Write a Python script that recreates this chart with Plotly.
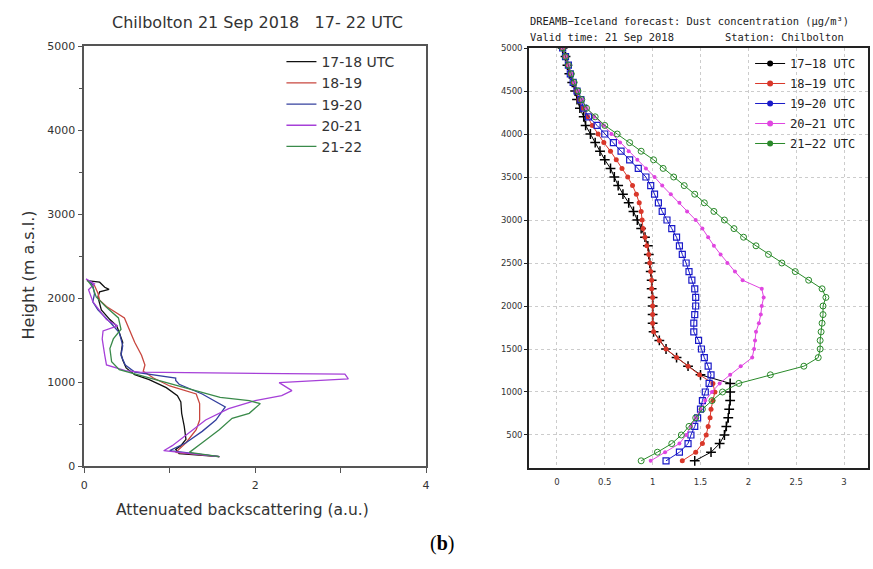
import plotly.graph_objects as go

W, H = 873, 569

# ---------------- Left panel: lidar attenuated backscatter ----------------
left_names = ["17-18 UTC", "18-19", "19-20", "20-21", "21-22"]
left_colors = ["#111111", "#c8473f", "#34409e", "#a640d8", "#3a8a4a"]

lid_1718_h = [115, 150, 200, 245, 320, 475, 630, 765, 840, 935, 1030, 1090, 1170, 1265, 1340, 1475, 1590, 1670, 1745, 1860, 2015, 2075, 2105, 2130, 2190, 2210]
lid_1718_x = [1.58, 1.11, 1.07, 1.13, 1.19, 1.17, 1.14, 1.13, 1.09, 0.96, 0.76, 0.59, 0.49, 0.45, 0.43, 0.45, 0.41, 0.38, 0.30, 0.20, 0.16, 0.18, 0.29, 0.24, 0.18, 0.03]

lid_1819_h = [115, 165, 280, 435, 550, 745, 860, 955, 1050, 1130, 1205, 1320, 1475, 1670, 1765, 1900, 1975, 2060, 2150, 2200]
lid_1819_x = [1.58, 1.07, 1.19, 1.31, 1.35, 1.35, 1.31, 1.00, 0.81, 0.69, 0.71, 0.67, 0.59, 0.51, 0.47, 0.26, 0.18, 0.16, 0.12, 0.05]

lid_1920_h = [115, 185, 280, 415, 550, 705, 860, 975, 1020, 1050, 1120, 1205, 1320, 1435, 1590, 1705, 1860, 1955, 2055, 2150, 2210]
lid_1920_x = [1.58, 1.00, 1.19, 1.38, 1.54, 1.65, 1.38, 1.11, 1.07, 1.07, 0.59, 0.48, 0.43, 0.45, 0.41, 0.31, 0.16, 0.10, 0.12, 0.10, 0.06]

lid_2021_h = [115, 185, 245, 400, 550, 685, 780, 840, 900, 995, 1040, 1095, 1120, 1137, 1205, 1320, 1515, 1610, 1670, 1745, 1900, 1960, 2100, 2170, 2230]
lid_2021_x = [1.58, 0.93, 1.03, 1.23, 1.42, 1.69, 2.00, 2.31, 2.43, 2.28, 3.09, 3.05, 0.65, 0.48, 0.26, 0.24, 0.21, 0.22, 0.39, 0.26, 0.14, 0.10, 0.05, 0.12, 0.02]

lid_2122_h = [115, 165, 280, 435, 570, 630, 745, 780, 820, 975, 1090, 1150, 1245, 1400, 1515, 1630, 1765, 1900, 2015, 2130, 2210]
lid_2122_x = [1.58, 1.23, 1.38, 1.58, 1.73, 1.93, 2.06, 1.93, 1.59, 1.03, 0.61, 0.41, 0.32, 0.30, 0.34, 0.43, 0.40, 0.25, 0.14, 0.10, 0.04]

left_series = [(lid_1718_x, lid_1718_h), (lid_1819_x, lid_1819_h), (lid_1920_x, lid_1920_h),
               (lid_2021_x, lid_2021_h), (lid_2122_x, lid_2122_h)]

# ---------------- Right panel: DREAMB forecast dust concentration ----------------
model_levels = [200, 300, 400, 500, 600, 700, 800, 900, 1000, 1100, 1200, 1300, 1400, 1500,
                1600, 1700, 1800, 1900, 2000, 2100, 2200, 2300, 2400, 2500, 2600, 2700, 2800,
                2900, 3000, 3100, 3200, 3300, 3400, 3500, 3600, 3700, 3800, 3900, 4000, 4100,
                4200, 4300, 4400, 4500, 4600, 4700, 4800, 4900, 5000]

dust_1718 = [1.44, 1.61, 1.70, 1.75, 1.77, 1.79, 1.80, 1.81, 1.81, 1.81, 1.50, 1.37, 1.25, 1.14,
             1.07, 1.01, 1.00, 1.00, 1.00, 1.00, 0.99, 0.99, 0.98, 0.97, 0.96, 0.95, 0.92,
             0.88, 0.84, 0.80, 0.75, 0.69, 0.64, 0.60, 0.56, 0.50, 0.45, 0.40, 0.35, 0.30,
             0.28, 0.24, 0.21, 0.19, 0.16, 0.13, 0.11, 0.09, 0.06]
dust_1819 = [1.31, 1.45, 1.52, 1.56, 1.58, 1.60, 1.61, 1.63, 1.65, 1.63, 1.49, 1.37, 1.25, 1.14,
             1.07, 1.01, 1.00, 1.00, 1.00, 1.00, 0.99, 0.99, 0.98, 0.97, 0.96, 0.94, 0.92,
             0.90, 0.89, 0.88, 0.86, 0.83, 0.79, 0.74, 0.68, 0.62, 0.56, 0.49, 0.43, 0.37,
             0.32, 0.27, 0.23, 0.20, 0.17, 0.14, 0.11, 0.09, 0.06]
dust_1920 = [1.14, 1.28, 1.37, 1.40, 1.44, 1.47, 1.50, 1.52, 1.55, 1.59, 1.61, 1.58, 1.54, 1.51,
             1.48, 1.43, 1.43, 1.44, 1.45, 1.45, 1.44, 1.41, 1.38, 1.35, 1.31, 1.28, 1.25,
             1.20, 1.15, 1.10, 1.06, 1.02, 0.98, 0.93, 0.85, 0.76, 0.67, 0.59, 0.50, 0.42,
             0.33, 0.28, 0.25, 0.21, 0.17, 0.14, 0.12, 0.09, 0.06]
dust_2021 = [0.98, 1.13, 1.28, 1.35, 1.40, 1.45, 1.50, 1.55, 1.62, 1.70, 1.81, 1.92, 2.04, 2.06,
             2.07, 2.08, 2.11, 2.13, 2.14, 2.16, 2.14, 1.94, 1.86, 1.78, 1.71, 1.64, 1.58,
             1.52, 1.45, 1.36, 1.28, 1.19, 1.10, 1.02, 0.93, 0.84, 0.75, 0.66, 0.57, 0.49,
             0.39, 0.31, 0.26, 0.22, 0.18, 0.15, 0.12, 0.09, 0.06]
dust_2122 = [0.88, 1.05, 1.20, 1.30, 1.38, 1.45, 1.52, 1.62, 1.73, 1.90, 2.23, 2.58, 2.73, 2.75,
             2.75, 2.76, 2.77, 2.78, 2.78, 2.81, 2.77, 2.63, 2.49, 2.35, 2.21, 2.08, 1.95,
             1.85, 1.75, 1.64, 1.54, 1.44, 1.33, 1.22, 1.11, 1.01, 0.88, 0.76, 0.63, 0.50,
             0.40, 0.31, 0.26, 0.22, 0.18, 0.15, 0.12, 0.09, 0.06]

right_names = ["17\u221218 UTC", "18\u221219 UTC", "19\u221220 UTC", "20\u221221 UTC", "21\u221222 UTC"]
right_colors = ["#000000", "#d9372a", "#1a1ac8", "#e045e0", "#2a8a2a"]
right_series = [dust_1718, dust_1819, dust_1920, dust_2021, dust_2122]
right_markers = [
    dict(symbol="cross-thin", size=7, line=dict(width=1.5, color="#000000")),
    dict(symbol="circle", size=5),
    dict(symbol="square-open", size=6, line=dict(width=1.2)),
    dict(symbol="circle", size=4),
    dict(symbol="circle-open", size=6, line=dict(width=1)),
]

fig = go.Figure()

for (xs, hs), name, col in zip(left_series, left_names, left_colors):
    fig.add_trace(go.Scatter(x=xs, y=hs, mode="lines", name=name,
                             line=dict(color=col, width=1.3),
                             xaxis="x", yaxis="y", legend="legend"))

for vals, name, col, mk in zip(right_series, right_names, right_colors, right_markers):
    m = dict(mk)
    m["color"] = col
    if "line" in m and m["symbol"] != "cross-thin":
        m["line"] = dict(width=m["line"]["width"], color=col)
    fig.add_trace(go.Scatter(x=vals, y=model_levels, mode="lines+markers", name=name,
                             line=dict(color=col, width=1), marker=m,
                             xaxis="x2", yaxis="y2", showlegend=False))

# legend entries for the right panel
for name, col in zip(right_names, right_colors):
    fig.add_trace(go.Scatter(x=[None], y=[None], mode="lines+markers", name=name,
                             line=dict(color=col, width=1),
                             marker=dict(symbol="circle", size=6, color=col),
                             xaxis="x2", yaxis="y2", legend="legend2",
                             legendgroup=name))

axis_font = dict(family="DejaVu Sans", size=11, color="#333333")
small_font = dict(family="DejaVu Sans", size=8.5, color="#333333")

fig.update_layout(
    width=W, height=H,
    margin=dict(l=0, r=0, t=0, b=0),
    paper_bgcolor="white", plot_bgcolor="white",
    showlegend=True,
    xaxis=dict(domain=[81 / W, 426 / W], range=[0, 4],
               tickvals=[0, 1, 2, 3, 4], ticktext=["0", "", "2", "", "4"],
               ticks="outside", ticklen=5, tickcolor="#555555",
               showline=True, linecolor="#555555", linewidth=1.5, mirror=True,
               showgrid=False, zeroline=False, tickfont=axis_font, anchor="y",
               ticklabelstandoff=3),
    yaxis=dict(domain=[1 - 471 / H, 1 - 41 / H], range=[0, 5000],
               tickvals=[0, 1000, 2000, 3000, 4000, 5000],
               ticks="outside", ticklen=5, tickcolor="#555555",
               minor=dict(tickvals=[500, 1500, 2500, 3500, 4500], ticks="outside",
                          ticklen=4, tickcolor="#555555"),
               showline=True, linecolor="#555555", linewidth=1.5, mirror=True,
               showgrid=False, zeroline=False, tickfont=axis_font, anchor="x"),
    xaxis2=dict(domain=[530 / W, 872 / W], range=[-0.29, 3.25],
                tickvals=[0, 0.5, 1, 1.5, 2, 2.5, 3],
                ticks="", showline=True, linecolor="#222222", linewidth=1.8, mirror=True,
                showgrid=True, gridcolor="#cccccc", griddash="dot", gridwidth=1,
                zeroline=False, tickfont=small_font, anchor="y2", ticklabelstandoff=5),
    yaxis2=dict(domain=[1 - 473 / H, 1 - 43 / H], range=[114, 5000],
                tickvals=[500, 1000, 1500, 2000, 2500, 3000, 3500, 4000, 4500, 5000],
                ticks="outside", ticklen=3, tickcolor="#222222",
                showline=True, linecolor="#222222", linewidth=1.8, mirror=True,
                showgrid=True, gridcolor="#cccccc", griddash="dot", gridwidth=1,
                zeroline=False, tickfont=small_font, anchor="x2"),
    legend=dict(x=280 / W, y=1 - 41 / H, xanchor="left", yanchor="top",
                bgcolor="rgba(0,0,0,0)", borderwidth=0,
                font=dict(family="DejaVu Sans", size=14, color="#333333")),
    legend2=dict(x=753 / W, y=1 - 44 / H, xanchor="left", yanchor="top",
                 bgcolor="rgba(0,0,0,0)", borderwidth=0, tracegroupgap=1,
                 font=dict(family="DejaVu Sans Mono", size=12, color="#222222")),
)

nb = "\u00a0"
annotations = [
    dict(text="Chilbolton 21 Sep 2018" + nb * 3 + "17- 22 UTC", x=256 / W, y=1 - 17 / H,
         xanchor="center", yanchor="middle",
         font=dict(family="DejaVu Sans", size=16, color="#333333")),
    dict(text="Height (m a.s.l.)", x=25 / W, y=1 - 275 / H, textangle=-90,
         xanchor="center", yanchor="middle",
         font=dict(family="DejaVu Sans", size=16, color="#333333")),
    dict(text="Attenuated backscattering (a.u.)", x=241 / W, y=1 - 516 / H,
         xanchor="center", yanchor="middle",
         font=dict(family="DejaVu Sans", size=15.5, color="#333333")),
    dict(text="DREAMB\u2212Iceland forecast: Dust concentration (\u00b5g/m\u00b3)",
         x=529 / W, y=1 - 15 / H, xanchor="left", yanchor="middle",
         font=dict(family="DejaVu Sans Mono", size=10.4, color="#222222")),
    dict(text="Valid time: 21 Sep 2018", x=529 / W, y=1 - 32 / H,
         xanchor="left", yanchor="middle",
         font=dict(family="DejaVu Sans Mono", size=10.4, color="#222222")),
    dict(text="Station: Chilbolton", x=850 / W, y=1 - 32 / H,
         xanchor="right", yanchor="middle",
         font=dict(family="DejaVu Sans Mono", size=10.4, color="#222222")),
    dict(text="(<b>b</b>)", x=442 / W, y=1 - 550 / H, xanchor="center", yanchor="middle",
         font=dict(family="Liberation Serif", size=20, color="#000000")),
]
for a in annotations:
    a.update(xref="paper", yref="paper", showarrow=False)
fig.update_layout(annotations=annotations)

fig.write_html("out.html")
